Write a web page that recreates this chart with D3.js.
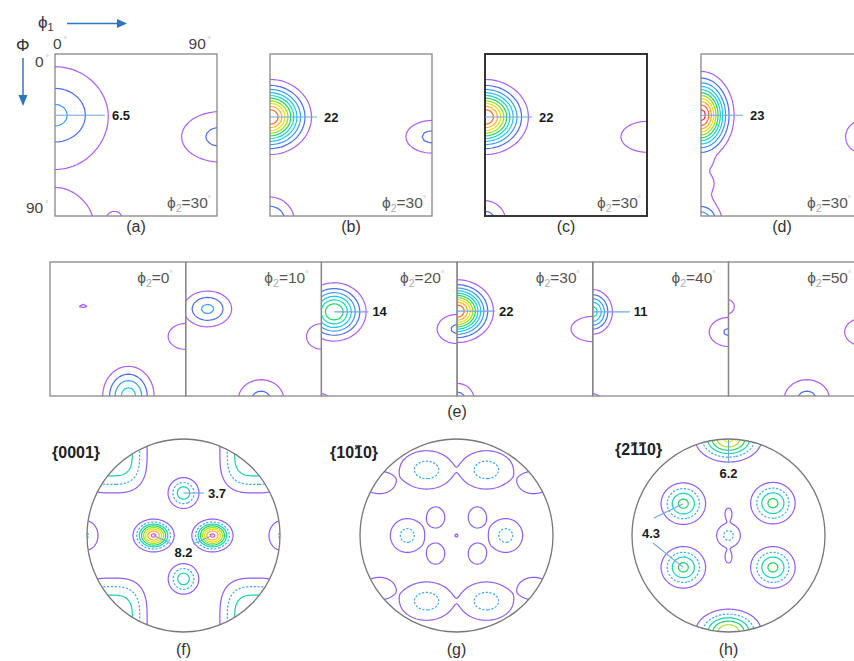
<!DOCTYPE html>
<html>
<head>
<meta charset="utf-8">
<script src="https://cdn.jsdelivr.net/npm/d3@7"></script>
<style>
  body { margin: 0; background: #fff; }
  svg { display: block; }
  text { font-family: Arial, "Liberation Sans", sans-serif; }
</style>
</head>
<body>
<svg id="fig" width="854" height="661"></svg>
<script>
// ---------- contour levels and colours ----------
const odfLevels = [2, 4, 6, 8, 10, 12, 14, 16, 18, 20, 22];
const odfColors = ["#ad5ef2", "#4c6cec", "#3c9cf4", "#1fc4ee", "#12d6c0", "#1cd46a",
                   "#96de1a", "#e9e000", "#ffb020", "#ff6a20", "#ff2a3c"];
const pfLevels = [1, 2, 3, 4, 5, 6, 7, 8];
const pfColors = ["#8e5cf2", "#3aa8f2", "#12d2b4", "#22d060", "#a8e020",
                  "#ece000", "#ffa838", "#ff4a9a"];
const pfDashed = [false, true, false, false, false, false, false, false];

// ---------- ODF sections, phi2 = 30 deg : [phi1, Phi, f(g), width phi1, width Phi] ----------
const odfA = [
  [0, 34, 6.5, 17, 15],
  [0, 36, 2.5, 42, 42],
  [92, 46, 4.5, 17, 11],
  [0, 97, 4.2, 18, 18],
  [33, 91, 2.6, 6, 5]
];
const odfB = [
  [0, 35, 22, 10.5, 9.5],
  [90, 46, 4.5, 11.4, 7.1],
  [0, 93, 6.2, 9, 9]
];
const odfC = [
  [0, 35, 22, 11, 9.5],
  [90, 46, 3.5, 13.7, 8.1],
  [0, 93, 5, 8.5, 8.5]
];
const odfD = [
  [0, 34, 23, 8.3, 11],
  [0, 58, 2.5, 11, 10],
  [0, 72, 2.5, 11, 10],
  [0, 84, 2.5, 11, 9],
  [0, 93, 8, 7, 7],
  [90, 46, 3.2, 10, 9.5]
];
const topPhi2 = [30, 30, 30, 30];
const topNames = ["(a)", "(b)", "(c)", "(d)"];

// ---------- ODF sections of series (e) ----------
const sectionAngles = [0, 10, 20, 30, 40, 50];
const sec0 = [
  [22, 29.5, 2.05, 12, 6],
  [90, 50, 3, 13, 9.7],
  [52, 90, 9, 9.8, 11.5]
];
const sec10 = [
  [14.5, 31.5, 6.5, 10.4, 7.8],
  [90, 50, 3, 11, 9.5],
  [50, 92, 4.6, 11.6, 10]
];
const sec20 = [
  [8.5, 33.5, 14, 10.7, 9.9],
  [90, 45, 4.3, 10.7, 7.9],
  [0, 95, 2.8, 8, 8]
];
const sec30 = [
  [0, 33, 22, 11, 9.6],
  [90, 45, 3.5, 13.7, 8],
  [0, 93, 5, 8.5, 8.5]
];
const sec40 = [
  [0, 33.5, 11, 7, 8.1],
  [90, 47, 4.2, 10.5, 8],
  [0, 95, 2.8, 8, 8]
];
const sec50 = [
  [-1, 30, 2.8, 6, 6],
  [90, 47, 3.3, 13, 9.5],
  [52, 92, 4.6, 11.6, 10]
];
const sections = [sec0, sec10, sec20, sec30, sec40, sec50];
const sectionLabelled = [false, false, true, true, true, false];

// ---------- pole figures : [x, y, intensity, width x, width y, shape exponent] ----------
const pf0001 = [
  [-0.31, 0, 8.2, 0.104, 0.083],
  [0.30, 0, 8.2, 0.104, 0.083],
  [0, -0.44, 3.7, 0.099, 0.099],
  [0, 0.45, 3.6, 0.099, 0.099],
  [-1.02, 0, 2.1, 0.11, 0.127],
  [1.02, 0, 2.1, 0.11, 0.127],
  [-0.74, -0.86, 3.9, 0.26, 0.3, 3],
  [0.74, -0.86, 3.9, 0.26, 0.3, 3],
  [-0.74, 0.86, 3.9, 0.26, 0.3, 3],
  [0.74, 0.86, 3.9, 0.26, 0.3, 3]
];
const pf1010 = [
  [-0.31, -0.68, 2.4, 0.21, 0.15],
  [0.31, -0.68, 2.4, 0.21, 0.15],
  [-0.31, 0.68, 2.4, 0.21, 0.15],
  [0.31, 0.68, 2.4, 0.21, 0.15],
  [-0.8, -0.55, 1.6, 0.17, 0.12],
  [0.8, -0.55, 1.6, 0.17, 0.12],
  [-0.8, 0.55, 1.6, 0.17, 0.12],
  [0.8, 0.55, 1.6, 0.17, 0.12],
  [-0.51, 0, 2.3, 0.136, 0.136],
  [0.51, 0, 2.3, 0.136, 0.136],
  [-0.216, -0.188, 1.3, 0.13, 0.15],
  [0.216, -0.188, 1.3, 0.13, 0.15],
  [-0.216, 0.188, 1.3, 0.13, 0.15],
  [0.216, 0.188, 1.3, 0.13, 0.15],
  [0, 0, 1.2, 0.025, 0.025]
];
const pf2110 = [
  [0, -1.0, 6.2, 0.18, 0.125],
  [0, 1.0, 6.0, 0.18, 0.125],
  [-0.468, -0.33, 4.3, 0.135, 0.126],
  [0.46, -0.335, 4.3, 0.135, 0.126],
  [-0.468, 0.33, 4.3, 0.135, 0.126],
  [0.46, 0.33, 4.3, 0.135, 0.126],
  [0, 0, 2.3, 0.095, 0.095],
  [0, -0.22, 1.3, 0.05, 0.09],
  [0, 0.22, 1.3, 0.05, 0.09]
];
const pfNames = ["(f)", "(g)", "(h)"];

// ---------- drawing helpers ----------
const svg = d3.select("#fig");
const fmt = v => String(v);

// intensity field: soft maximum (p-norm) of generalised Gaussian peaks
function field(peaks, x, y, p) {
  let s = 0;
  for (const pk of peaks) {
    const [px, py, h, sx, sy] = pk;
    const q = pk[5] || 2;
    const dx = Math.abs(x - px) / sx, dy = Math.abs(y - py) / sy;
    const v = h * Math.exp(-0.5 * (Math.pow(dx, q) + Math.pow(dy, q)));
    s += Math.pow(v, p);
  }
  return Math.pow(s, 1 / p);
}

function drawContours(g, peaks, o) {
  const n = Math.round((o.hi - o.lo) / o.step) + 1;
  const values = new Float64Array(n * n);
  for (let j = 0; j < n; j++)
    for (let i = 0; i < n; i++)
      values[j * n + i] = field(peaks, o.lo + i * o.step, o.lo + j * o.step, o.p);
  const gen = d3.contours().size([n, n]).thresholds(o.levels);
  const proj = d3.geoTransform({
    point(x, y) {
      this.stream.point(o.xs(o.lo + (x - 0.5) * o.step), o.ys(o.lo + (y - 0.5) * o.step));
    }
  });
  const path = d3.geoPath(proj);
  g.selectAll(null)
    .data(gen(values))
    .join("path")
    .attr("d", path)
    .attr("fill", "none")
    .attr("stroke", d => o.colors[o.levels.indexOf(d.value)])
    .attr("stroke-width", 1.2)
    .attr("stroke-linejoin", "round")
    .attr("stroke-dasharray", d => (o.dashed && o.dashed[o.levels.indexOf(d.value)]) ? "2.2,1.6" : null);
}

let clipCount = 0;
function clipRect(x, y, w, h) {
  const id = "clip" + (clipCount++);
  svg.append("clipPath").attr("id", id).append("rect")
    .attr("x", x).attr("y", y).attr("width", w).attr("height", h);
  return "url(#" + id + ")";
}
function clipCircle(cx, cy, r) {
  const id = "clip" + (clipCount++);
  svg.append("clipPath").attr("id", id).append("circle")
    .attr("cx", cx).attr("cy", cy).attr("r", r);
  return "url(#" + id + ")";
}

// "phi2=30 deg" style label
function phi2Label(x, y, val) {
  const t = svg.append("text").attr("x", x).attr("y", y)
    .attr("text-anchor", "end").attr("font-size", 15.5).attr("fill", "#555");
  t.append("tspan").text("ϕ");
  t.append("tspan").attr("dy", 4).attr("font-size", 10.5).attr("fill", "#aaa").text("2");
  t.append("tspan").attr("dy", -4).text("=" + val);
  t.append("tspan").attr("dy", -7).attr("font-size", 8).attr("fill", "#aaa").text("°");
}

function degText(x, y, val, anchor) {
  const t = svg.append("text").attr("x", x).attr("y", y)
    .attr("text-anchor", anchor || "start").attr("font-size", 15.5).attr("fill", "#444");
  t.append("tspan").text(val);
  t.append("tspan").attr("dy", -7).attr("dx", 2).attr("font-size", 8).attr("fill", "#aaa").text("°");
}

function valueLabel(x1, y1, x2, y2, tx, ty, v, anchor) {
  svg.append("line").attr("x1", x1).attr("y1", y1).attr("x2", x2).attr("y2", y2)
    .attr("stroke", "#6fa8dc").attr("stroke-width", 1.1);
  if (v !== null)
    svg.append("text").attr("x", tx).attr("y", ty).attr("text-anchor", anchor || "start")
      .attr("font-size", 13).attr("font-weight", "bold").attr("fill", "#1a1a1a").text(fmt(v));
}

// ---------- top row: ODF sections (a)-(d) ----------
const topX = [55, 270, 485, 701];
const topY = 54, topS = 162;
const topLabelLen = [50, 47, 47, 42];
const topPhiInset = [6, 6, 6, 12];
const topPeaks = [odfA, odfB, odfC, odfD];

topPeaks.forEach((peaks, k) => {
  const x0 = topX[k];
  const xs = d3.scaleLinear().domain([0, 90]).range([x0, x0 + topS]);
  const ys = d3.scaleLinear().domain([0, 90]).range([topY, topY + topS]);
  const g = svg.append("g").attr("clip-path", clipRect(x0, topY, topS, topS));
  drawContours(g, peaks, { lo: -20, hi: 110, step: 2, xs, ys, p: 6,
    levels: odfLevels, colors: odfColors });
  svg.append("rect").attr("x", x0).attr("y", topY).attr("width", topS).attr("height", topS)
    .attr("fill", "none")
    .attr("stroke", k === 2 ? "#333" : "#888")
    .attr("stroke-width", k === 2 ? 2 : 1.3);
  const pk = peaks[0];
  const px = xs(Math.max(0, pk[0])), py = ys(pk[1]);
  valueLabel(px, py, x0 + topLabelLen[k], py, x0 + topLabelLen[k] + 7, py + 4.5, pk[2]);
  phi2Label(x0 + topS - topPhiInset[k], topY + topS - 8, topPhi2[k]);
  svg.append("text").attr("x", x0 + topS / 2).attr("y", topY + topS + 16)
    .attr("text-anchor", "middle").attr("font-size", 16).attr("fill", "#333").text(topNames[k]);
});

// axis annotation of the first section
degText(53, 49, "0");
degText(211, 49, "90", "end");
degText(35, 67, "0");
degText(26, 213, "90");
{
  const t = svg.append("text").attr("x", 38).attr("y", 28).attr("font-size", 17).attr("fill", "#333");
  t.append("tspan").text("ϕ");
  t.append("tspan").attr("dy", 3).attr("font-size", 11).text("1");
  svg.append("text").attr("x", 16).attr("y", 51).attr("font-size", 17).attr("fill", "#333").text("Φ");
  const blue = "#2f74c0";
  svg.append("line").attr("x1", 67).attr("y1", 23.5).attr("x2", 118).attr("y2", 23.5)
    .attr("stroke", blue).attr("stroke-width", 1.5);
  svg.append("path").attr("d", "M117,19 L127,23.5 L117,28 Z").attr("fill", blue);
  svg.append("line").attr("x1", 23).attr("y1", 58).attr("x2", 23).attr("y2", 96)
    .attr("stroke", blue).attr("stroke-width", 1.5);
  svg.append("path").attr("d", "M18.5,95 L23,106 L27.5,95 Z").attr("fill", blue);
}

// ---------- middle row (e): phi2 series ----------
const secX0 = 50, secW = 135.7, secY = 262, secH = 134;
const secLabelEnd = [0, 0, 47, 38, 37, 0];
sections.forEach((peaks, k) => {
  const x0 = secX0 + k * secW;
  const xs = d3.scaleLinear().domain([0, 90]).range([x0, x0 + secW]);
  const ys = d3.scaleLinear().domain([0, 90]).range([secY, secY + secH]);
  const g = svg.append("g").attr("clip-path", clipRect(x0, secY, secW, secH));
  drawContours(g, peaks, { lo: -20, hi: 110, step: 2, xs, ys, p: 6,
    levels: odfLevels, colors: odfColors });
  svg.append("rect").attr("x", x0).attr("y", secY).attr("width", secW).attr("height", secH)
    .attr("fill", "none").attr("stroke", "#888").attr("stroke-width", 1.3);
  if (sectionLabelled[k]) {
    const pk = peaks[0];
    const px = xs(Math.max(0, pk[0])), py = ys(pk[1]);
    valueLabel(px, py, x0 + secLabelEnd[k], py, x0 + secLabelEnd[k] + 4, py + 4.5, pk[2]);
  }
  phi2Label(x0 + secW - 13, secY + 21, sectionAngles[k]);
});
svg.append("text").attr("x", 457).attr("y", 417).attr("text-anchor", "middle")
  .attr("font-size", 16).attr("fill", "#333").text("(e)");

// ---------- bottom row: pole figures ----------
const pfCx = [183.5, 456.5, 728.5], pfCy = 535.5, pfR = 96.5;
const pfPeaks = [pf0001, pf1010, pf2110];
const pfPow = [3, 3, 3];
const pfScales = [];
pfPeaks.forEach((peaks, k) => {
  const cx = pfCx[k];
  const xs = d3.scaleLinear().domain([-1, 1]).range([cx - pfR, cx + pfR]);
  const ys = d3.scaleLinear().domain([-1, 1]).range([pfCy - pfR, pfCy + pfR]);
  pfScales.push({ xs, ys });
  const g = svg.append("g").attr("clip-path", clipCircle(cx, pfCy, pfR));
  drawContours(g, peaks, { lo: -1.15, hi: 1.15, step: 0.01, xs, ys, p: pfPow[k],
    levels: pfLevels, colors: pfColors, dashed: pfDashed });
  svg.append("circle").attr("cx", cx).attr("cy", pfCy).attr("r", pfR)
    .attr("fill", "none").attr("stroke", "#777").attr("stroke-width", 1.3);
  svg.append("text").attr("x", cx).attr("y", 655).attr("text-anchor", "middle")
    .attr("font-size", 16).attr("fill", "#333").text(pfNames[k]);
});

// Miller-Bravais labels, with bars drawn over the negative indices
function millerLabel(x, y, chars, bars) {
  const t = svg.append("text").attr("x", x).attr("y", y)
    .attr("font-family", "'Open Sans', 'DejaVu Sans', sans-serif")
    .attr("font-weight", 600).attr("font-size", 16).attr("fill", "#222")
    .text(chars);
  const node = t.node();
  bars.forEach(i => {
    const b = node.getExtentOfChar(i);
    svg.append("line").attr("x1", b.x + 1).attr("x2", b.x + b.width - 1)
      .attr("y1", b.y + 2).attr("y2", b.y + 2)
      .attr("stroke", "#222").attr("stroke-width", 1.4);
  });
}
millerLabel(52, 458, "{0001}", []);
millerLabel(330, 458, "{1010}", [3]);
millerLabel(615, 455, "{2110}", [2, 3]);

// value call-outs on the pole figures
{
  const { xs, ys } = pfScales[0];
  const a = pf0001[0], b = pf0001[1], c = pf0001[2];
  valueLabel(xs(c[0]), ys(c[1]), 204, ys(c[1]), 208, ys(c[1]) + 5, c[2]);
  valueLabel(xs(a[0]), ys(a[1]), 172, 544, 183.5, 557, a[2], "middle");
  valueLabel(xs(b[0]), ys(b[1]), 193, 544, 0, 0, null);
}
{
  const { xs, ys } = pfScales[2];
  const t = pf2110[0], ul = pf2110[2], ll = pf2110[4];
  valueLabel(xs(t[0]), ys(t[1]), xs(t[0]), 463, xs(t[0]), 478, t[2], "middle");
  valueLabel(xs(ul[0]), ys(ul[1]), 654, 518, 651, 538, ul[2], "middle");
  valueLabel(xs(ll[0]), ys(ll[1]), 653, 543, 0, 0, null);
}
</script>
</body>
</html>
